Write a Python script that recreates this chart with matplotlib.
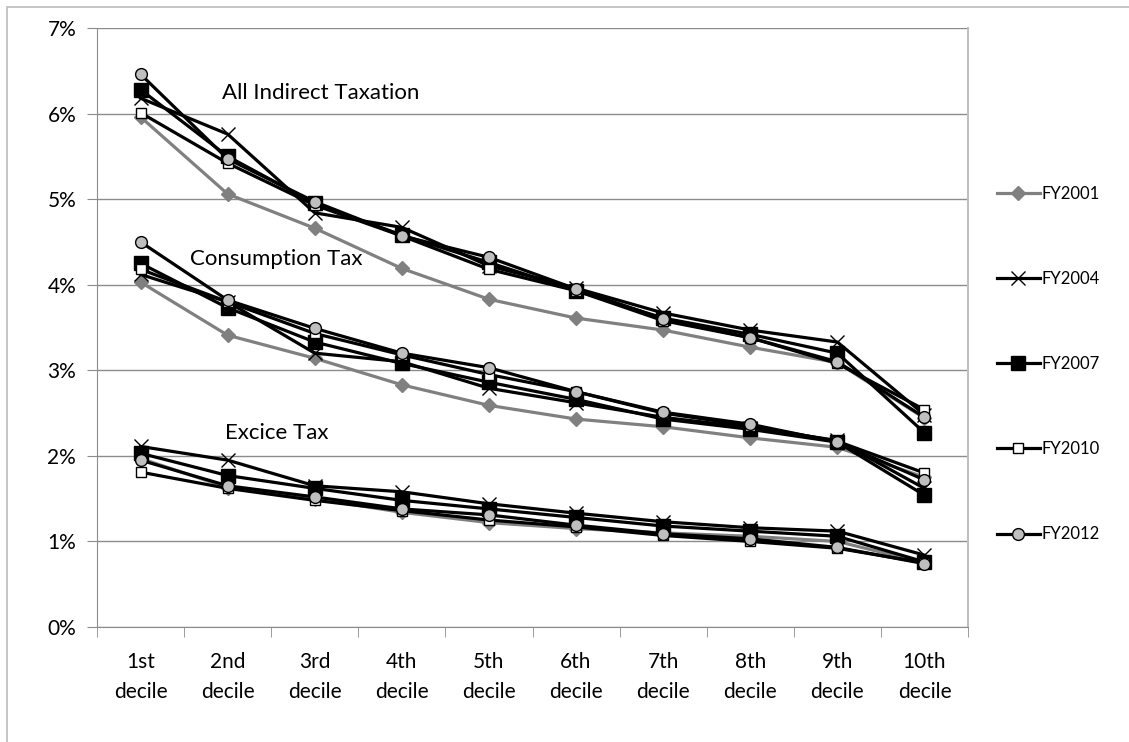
import numpy as np
import matplotlib.pyplot as plt
from matplotlib.patches import Rectangle

plt.rcParams['font.family'] = ['Lato', 'DejaVu Sans']

deciles = ["1st\ndecile", "2nd\ndecile", "3rd\ndecile", "4th\ndecile", "5th\ndecile",
           "6th\ndecile", "7th\ndecile", "8th\ndecile", "9th\ndecile", "10th\ndecile"]
years = ["FY2001", "FY2004", "FY2007", "FY2010", "FY2012"]

# All indirect taxation (% of income)
all_2001 = [5.96, 5.06, 4.66, 4.19, 3.83, 3.61, 3.47, 3.27, 3.09, 2.44]
all_2004 = [6.18, 5.76, 4.84, 4.67, 4.22, 3.96, 3.67, 3.47, 3.33, 2.48]
all_2007 = [6.28, 5.50, 4.95, 4.58, 4.26, 3.93, 3.61, 3.42, 3.20, 2.27]
all_2010 = [6.01, 5.42, 4.93, 4.57, 4.18, 3.93, 3.58, 3.38, 3.08, 2.54]
all_2012 = [6.46, 5.47, 4.97, 4.57, 4.32, 3.95, 3.60, 3.38, 3.10, 2.45]

# Consumption tax
con_2001 = [4.03, 3.41, 3.14, 2.83, 2.59, 2.43, 2.34, 2.21, 2.10, 1.75]
con_2004 = [4.12, 3.80, 3.20, 3.10, 2.79, 2.62, 2.45, 2.33, 2.18, 1.62]
con_2007 = [4.25, 3.73, 3.33, 3.08, 2.86, 2.66, 2.43, 2.31, 2.16, 1.54]
con_2010 = [4.18, 3.80, 3.43, 3.18, 2.95, 2.75, 2.50, 2.35, 2.17, 1.80]
con_2012 = [4.50, 3.82, 3.49, 3.20, 3.03, 2.75, 2.51, 2.37, 2.16, 1.72]

# Excise tax
exc_2001 = [1.97, 1.63, 1.50, 1.34, 1.22, 1.15, 1.10, 1.06, 1.00, 0.75]
exc_2004 = [2.11, 1.95, 1.65, 1.58, 1.44, 1.33, 1.23, 1.16, 1.12, 0.84]
exc_2007 = [2.03, 1.77, 1.62, 1.48, 1.38, 1.28, 1.18, 1.12, 1.06, 0.76]
exc_2010 = [1.81, 1.62, 1.48, 1.36, 1.25, 1.17, 1.07, 1.00, 0.92, 0.75]
exc_2012 = [1.95, 1.65, 1.52, 1.38, 1.31, 1.19, 1.09, 1.03, 0.93, 0.74]

groups = {
    "FY2001": [all_2001, con_2001, exc_2001],
    "FY2004": [all_2004, con_2004, exc_2004],
    "FY2007": [all_2007, con_2007, exc_2007],
    "FY2010": [all_2010, con_2010, exc_2010],
    "FY2012": [all_2012, con_2012, exc_2012],
}

styles = {
    "FY2001": dict(color="#808080", marker="D", ms=7, mfc="#808080", mec="#808080"),
    "FY2004": dict(color="black", marker="x", ms=10, mew=1.0),
    "FY2007": dict(color="black", marker="s", ms=10, mfc="black", mec="black"),
    "FY2010": dict(color="black", marker="s", ms=7.5, mfc="white", mec="black", mew=1.0),
    "FY2012": dict(color="black", marker="o", ms=8.5, mfc="#BFBFBF", mec="black", mew=1.0),
}

fig = plt.figure(figsize=(11.29, 7.42), dpi=100)
ax = fig.add_axes([97/1129, 1-627/742, (968-97)/1129, (627-28)/742])

x = np.arange(len(deciles))
for i, yr in enumerate(years):
    for j, vals in enumerate(groups[yr]):
        ax.plot(x, np.array(vals)/100, lw=2.3, zorder=3+i,
                label=yr if j == 0 else None, **styles[yr])

ax.set_xlim(-0.5, 9.5)
ax.set_ylim(0, 0.07)
ax.set_yticks(np.arange(0, 0.071, 0.01))
ax.set_yticklabels([f"{v}%" for v in range(8)])
ax.yaxis.grid(True, color="#8c8c8c", lw=1)
ax.set_axisbelow(True)

ax.set_xticks(x)
ax.set_xticklabels(deciles, linespacing=1.6)
ax.set_xticks(np.arange(-0.5, 10, 1), minor=True)
ax.tick_params(axis="x", which="major", length=0, pad=18, labelsize=15)
ax.tick_params(axis="x", which="minor", length=7, color="#8c8c8c")
ax.tick_params(axis="y", length=7, color="#8c8c8c", labelsize=15, pad=8)

for s in ["left", "bottom"]:
    ax.spines[s].set_color("#8c8c8c")
ax.spines["top"].set_visible(False)
ax.spines["right"].set_color("#BFBFBF")
ax.spines["right"].set_linewidth(1.5)

ax.text(0.94, 0.0624, "All Indirect Taxation", fontsize=16, va="center")
ax.text(0.57, 0.0430, "Consumption Tax", fontsize=16, va="center")
ax.text(0.97, 0.0227, "Excice Tax", fontsize=16, va="center")

ax.legend(loc="upper left", bbox_to_anchor=(990/1129, 1-179/742), bbox_transform=fig.transFigure,
          frameon=False, fontsize=12, handlelength=2.6, handletextpad=0.1,
          labelspacing=4.15, borderaxespad=0)

fig.patches.append(Rectangle((7/1129, -0.1), 1.2, 1.1 - 7/742, transform=fig.transFigure,
                             fill=False, edgecolor="#BBBBBB", lw=1.2))

fig.savefig("out.png", dpi=100)
